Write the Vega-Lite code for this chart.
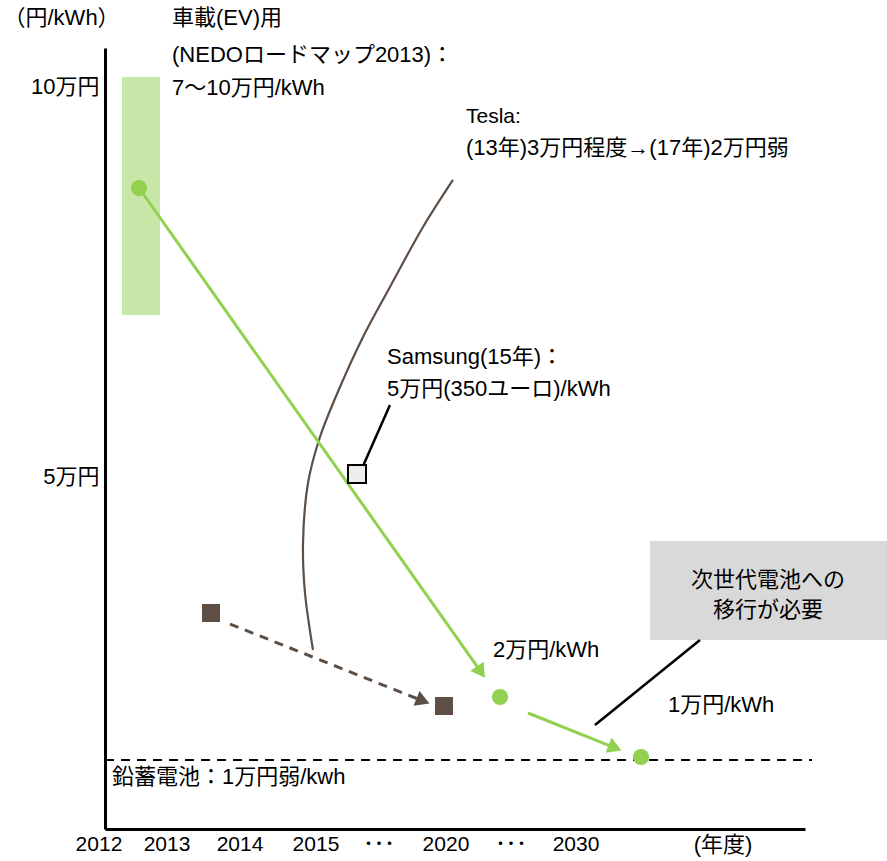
{
  "$schema": "https://vega.github.io/schema/vega-lite/v6.json",
  "width": 700,
  "height": 781,
  "autosize": {"type": "none"},
  "padding": {"left": 105, "top": 48, "right": 82, "bottom": 32},
  "background": "white",
  "config": {
    "view": {"stroke": null},
    "font": "Liberation Sans, Noto Sans CJK JP",
    "text": {"font": "Liberation Sans, Noto Sans CJK JP", "fontSize": 22, "color": "black"}
  },
  "datasets": {
    "evRange": [{"x": 0.243, "x2": 0.786, "y": 7.077, "y2": 10.128}],
    "grayBox": [{"x": 7.786, "x2": 11.2, "y": 2.91, "y2": 4.179}],
    "leadAcid": [{"x": 0, "y": 1.372}, {"x": 10.1, "y": 1.372}],
    "teslaCurve": [
      {"i": 1, "x": 4.971, "y": 8.808},
      {"i": 2, "x": 4.543, "y": 8.205},
      {"i": 3, "x": 4.071, "y": 7.436},
      {"i": 4, "x": 3.686, "y": 6.795},
      {"i": 5, "x": 3.357, "y": 6.154},
      {"i": 6, "x": 3.071, "y": 5.513},
      {"i": 7, "x": 2.9, "y": 4.923},
      {"i": 8, "x": 2.829, "y": 4.154},
      {"i": 9, "x": 2.857, "y": 3.513},
      {"i": 10, "x": 2.971, "y": 2.782}
    ],
    "brownTrend": [{"x": 1.786, "y": 3.115}, {"x": 4.543, "y": 2.128}],
    "greenTrend": [
      {"seg": "a", "x": 0.486, "y": 8.705},
      {"seg": "a", "x": 5.371, "y": 2.5},
      {"seg": "b", "x": 6.043, "y": 1.974},
      {"seg": "b", "x": 7.286, "y": 1.526}
    ],
    "leaders": [
      {"seg": "samsung", "x": 3.686, "y": 5.141},
      {"seg": "samsung", "x": 4.071, "y": 5.923},
      {"seg": "next", "x": 7.0, "y": 1.821},
      {"seg": "next", "x": 8.5, "y": 2.91}
    ],
    "arrowGreen1": [{"x": 5.371, "y": 2.5}],
    "arrowGreen2": [{"x": 7.286, "y": 1.526}],
    "arrowBrown": [{"x": 4.543, "y": 2.128}],
    "greenPoints": [
      {"x": 0.486, "y": 8.705},
      {"x": 5.643, "y": 2.179},
      {"x": 7.657, "y": 1.41}
    ],
    "brownPoints": [
      {"x": 1.514, "y": 3.256},
      {"x": 4.843, "y": 2.064}
    ],
    "samsungPoint": [{"x": 3.6, "y": 5.038}],
    "leftTexts": [
      {"x": -1.45, "y": 10.885, "label": "（円/kWh）"},
      {"x": 0.957, "y": 10.885, "label": "車載(EV)用"},
      {"x": 0.957, "y": 10.41, "label": "(NEDOロードマップ2013)："},
      {"x": 0.957, "y": 9.987, "label": "7～10万円/kWh"},
      {"x": 5.157, "y": 9.218, "label": "(13年)3万円程度→(17年)2万円弱"},
      {"x": 4.029, "y": 6.538, "label": "Samsung(15年)："},
      {"x": 4.029, "y": 6.128, "label": "5万円(350ユーロ)/kWh"},
      {"x": 5.543, "y": 2.782, "label": "2万円/kWh"},
      {"x": 8.043, "y": 2.077, "label": "1万円/kWh"},
      {"x": 0.1, "y": 1.154, "label": "鉛蓄電池：1万円弱/kwh"}
    ],
    "latinTexts": [
      {"x": 5.157, "y": 9.615, "label": "Tesla:"}
    ],
    "centerTexts": [
      {"x": 9.471, "y": 3.679, "label": "次世代電池への"},
      {"x": 9.471, "y": 3.295, "label": "移行が必要"},
      {"x": 8.829, "y": 0.282, "label": "(年度)"}
    ],
    "yearTexts": [
      {"x": -0.086, "y": 0.282, "label": "2012"},
      {"x": 0.886, "y": 0.282, "label": "2013"},
      {"x": 1.929, "y": 0.282, "label": "2014"},
      {"x": 3.014, "y": 0.282, "label": "2015"},
      {"x": 3.914, "y": 0.282, "label": "･･･"},
      {"x": 4.871, "y": 0.282, "label": "2020"},
      {"x": 5.8, "y": 0.282, "label": "･･･"},
      {"x": 6.729, "y": 0.282, "label": "2030"}
    ]
  },
  "encoding": {
    "x": {
      "field": "x", "type": "quantitative",
      "scale": {"domain": [0, 10], "nice": false, "zero": false},
      "axis": {"title": null, "labels": false, "ticks": false, "grid": false, "domainColor": "black", "domainWidth": 3}
    },
    "y": {
      "field": "y", "type": "quantitative",
      "scale": {"domain": [0.487, 10.5], "nice": false, "zero": false},
      "axis": {"title": null, "values": [5, 10], "labelExpr": "datum.value + '万円'", "ticks": false, "grid": false,
               "domainColor": "black", "domainWidth": 3, "labelFontSize": 22, "labelColor": "black",
               "labelFont": "Liberation Sans, Noto Sans CJK JP", "labelPadding": 6}
    }
  },
  "layer": [
    {"data": {"name": "evRange"}, "mark": {"type": "rect", "color": "#C8E6A8"},
     "encoding": {"x2": {"field": "x2"}, "y2": {"field": "y2"}}},
    {"data": {"name": "grayBox"}, "mark": {"type": "rect", "color": "#D9D9D9"},
     "encoding": {"x2": {"field": "x2"}, "y2": {"field": "y2"}}},
    {"data": {"name": "leadAcid"}, "mark": {"type": "line", "color": "black", "strokeWidth": 2, "strokeDash": [9, 7]}},
    {"data": {"name": "teslaCurve"}, "mark": {"type": "line", "color": "#5E4F45", "strokeWidth": 2.2, "interpolate": "catmull-rom"},
     "encoding": {"order": {"field": "i"}}},
    {"data": {"name": "brownTrend"}, "mark": {"type": "line", "color": "#5E4F45", "strokeWidth": 3, "strokeDash": [9, 7]}},
    {"data": {"name": "greenTrend"}, "mark": {"type": "line", "color": "#92D050", "strokeWidth": 3},
     "encoding": {"detail": {"field": "seg"}}},
    {"data": {"name": "leaders"}, "mark": {"type": "line", "color": "black", "strokeWidth": 2.5},
     "encoding": {"detail": {"field": "seg"}}},
    {"data": {"name": "arrowGreen1"}, "mark": {"type": "point", "shape": "triangle-up", "filled": true, "color": "#92D050", "opacity": 1, "size": 260, "angle": 145}},
    {"data": {"name": "arrowGreen2"}, "mark": {"type": "point", "shape": "triangle-up", "filled": true, "color": "#92D050", "opacity": 1, "size": 260, "angle": 112}},
    {"data": {"name": "arrowBrown"}, "mark": {"type": "point", "shape": "triangle-up", "filled": true, "color": "#5E4F45", "opacity": 1, "size": 260, "angle": 112}},
    {"data": {"name": "greenPoints"}, "mark": {"type": "circle", "color": "#92D050", "opacity": 1, "size": 260}},
    {"data": {"name": "brownPoints"}, "mark": {"type": "square", "color": "#5F4E44", "opacity": 1, "size": 324}},
    {"data": {"name": "samsungPoint"}, "mark": {"type": "point", "shape": "square", "filled": true, "fill": "#EEEEEE", "stroke": "black", "strokeWidth": 2, "opacity": 1, "size": 324}},
    {"data": {"name": "leftTexts"}, "mark": {"type": "text", "align": "left", "baseline": "middle"},
     "encoding": {"text": {"field": "label"}}},
    {"data": {"name": "latinTexts"}, "mark": {"type": "text", "align": "left", "baseline": "middle", "fontSize": 21},
     "encoding": {"text": {"field": "label"}}},
    {"data": {"name": "centerTexts"}, "mark": {"type": "text", "align": "center", "baseline": "middle"},
     "encoding": {"text": {"field": "label"}}},
    {"data": {"name": "yearTexts"}, "mark": {"type": "text", "align": "center", "baseline": "middle", "fontSize": 21},
     "encoding": {"text": {"field": "label"}}}
  ]
}
